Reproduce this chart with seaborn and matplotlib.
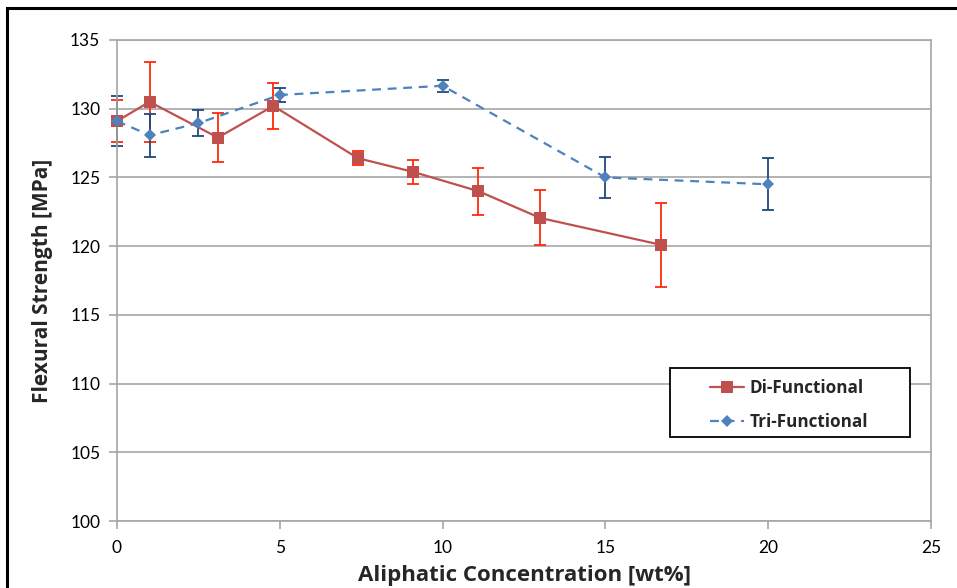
import matplotlib
matplotlib.use("Agg")
import matplotlib.pyplot as plt
import matplotlib.patches as mpatches
import seaborn as sns
import pandas as pd

# Di-functional aliphatic additive
di_conc = [0.0, 1.0, 3.1, 4.8, 7.4, 9.1, 11.1, 13.0, 16.7]
di_strength = [129.1, 130.5, 127.9, 130.2, 126.4, 125.4, 124.0, 122.05, 120.1]
di_err = [1.5, 2.9, 1.8, 1.7, 0.5, 0.85, 1.7, 2.0, 3.05]

# Tri-functional aliphatic additive
tri_conc = [0.0, 1.0, 2.5, 5.0, 10.0, 15.0, 20.0]
tri_strength = [129.1, 128.07, 128.95, 131.0, 131.67, 125.0, 124.5]
tri_err = [1.8, 1.55, 0.95, 0.5, 0.45, 1.5, 1.9]

x_ticks = [0, 5, 10, 15, 20, 25]
y_ticks = [100, 105, 110, 115, 120, 125, 130, 135]

di_df = pd.DataFrame({"conc": di_conc, "strength": di_strength})
tri_df = pd.DataFrame({"conc": tri_conc, "strength": tri_strength})

sns.set_style("white")
plt.rcParams["font.family"] = ["Lato", "DejaVu Sans"]
BOLD = ["Open Sans", "DejaVu Sans"]

W, H = 957, 588
fig = plt.figure(figsize=(W / 100, H / 100), dpi=100)
ax = fig.add_axes([117 / W, 1 - 521 / H, (931 - 117) / W, (521 - 40) / H])

DI_LINE = "#C0504D"
DI_ERR = "#FF2A0A"
TRI_LINE = "#4F81BD"
TRI_ERR = "#1F497D"

# error bars first so markers sit on top
for conc, val, err, col in [(di_conc, di_strength, di_err, DI_ERR),
                            (tri_conc, tri_strength, tri_err, TRI_ERR)]:
    eb = ax.errorbar(conc, val, yerr=err, fmt="none", ecolor=col,
                     elinewidth=1.3, capsize=4, capthick=1.3, zorder=2)
    for art in eb.lines[1] + eb.lines[2]:
        art.set_clip_on(False)

sns.lineplot(data=di_df, x="conc", y="strength", ax=ax, color=DI_LINE,
             marker="s", markersize=8.5, markeredgewidth=0, linewidth=1.6,
             label="Di-Functional", zorder=3, sort=False)
sns.lineplot(data=tri_df, x="conc", y="strength", ax=ax, color=TRI_LINE,
             marker="D", markersize=6.5, markeredgewidth=0, linewidth=1.6,
             dashes=False, label="Tri-Functional", zorder=4, sort=False)
for ln in ax.lines[-2:]:
    ln.set_clip_on(False)
ax.lines[-1].set_linestyle((0, (4, 3)))

ax.set_xlim(0, 25)
ax.set_ylim(100, 135)
ax.set_xticks(x_ticks)
ax.set_yticks(y_ticks)
ax.grid(axis="y", color="#A6A6A6", linewidth=1.2)
ax.set_axisbelow(True)
for s in ax.spines.values():
    s.set_color("#A6A6A6")
    s.set_linewidth(1.2)
ax.tick_params(axis="both", which="major", length=6, width=1.2, color="#A6A6A6",
               labelsize=12.5, labelcolor="black", direction="out")
ax.tick_params(axis="x", pad=8)
ax.tick_params(axis="y", pad=6)
ax.tick_params(left=True, bottom=True)

ax.set_xlabel("Aliphatic Concentration [wt%]", fontsize=16, fontweight="bold",
              family=BOLD, labelpad=6)
ax.set_ylabel("Flexural Strength [MPa]", fontsize=15, fontweight="bold",
              family=BOLD, labelpad=12)

# legend entries placed inside a separately drawn box
leg = ax.legend(loc="upper left", bbox_to_anchor=(710 / W, 1 - 379 / H),
                bbox_transform=fig.transFigure, frameon=False,
                prop={"weight": "bold", "size": 12.3, "family": BOLD}, handlelength=2.0,
                borderpad=0, labelspacing=0.95, handletextpad=0.3, borderaxespad=0)
for h in leg.get_lines():
    if h.get_label() == "Tri-Functional":
        h.set_linestyle((0, (4, 3)))
leg.set_zorder(6)
legend_box = mpatches.Rectangle((670 / W, 1 - 437 / H), 240 / W, 69 / H,
                                transform=fig.transFigure, facecolor="white",
                                edgecolor="black", linewidth=1.3, zorder=5,
                                clip_on=False)
ax.add_artist(legend_box)

# outer chart frame
fig.patches.append(mpatches.Rectangle((7 / W, -0.1), 1.2, 1 - 8 / H + 0.1,
                                      transform=fig.transFigure, fill=False,
                                      edgecolor="black", linewidth=2.2))

fig.savefig("out.png", dpi=100)
